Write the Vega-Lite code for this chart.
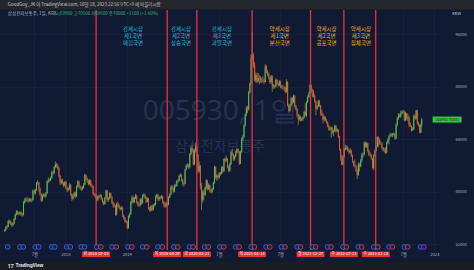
{
"$schema":"https://vega.github.io/schema/vega-lite/v6.json",
"width":440,"height":240,
"autosize":{"type":"none"},
"padding":{"left":0,"top":10,"right":34,"bottom":20},
"background":"#111a33",
"config":{"view":{"stroke":null},"font":"Noto Sans CJK KR"},
"datasets":{
"candles":[
{"t":"2017-01-06","o":36100,"h":36600,"l":35700,"c":36200},
{"t":"2017-01-13","o":36200,"h":37500,"l":35900,"c":37100},
{"t":"2017-01-20","o":37100,"h":37800,"l":36600,"c":37300},
{"t":"2017-01-27","o":37300,"h":39300,"l":37100,"c":39000},
{"t":"2017-02-03","o":39000,"h":39500,"l":38200,"c":38900},
{"t":"2017-02-10","o":38900,"h":39200,"l":37800,"c":38300},
{"t":"2017-02-17","o":38300,"h":38700,"l":37200,"c":37700},
{"t":"2017-02-24","o":37700,"h":38600,"l":37400,"c":38200},
{"t":"2017-03-03","o":38200,"h":39900,"l":38000,"c":39600},
{"t":"2017-03-10","o":39600,"h":41400,"l":39300,"c":41000},
{"t":"2017-03-17","o":41000,"h":42300,"l":40700,"c":41900},
{"t":"2017-03-24","o":41900,"h":42200,"l":40900,"c":41400},
{"t":"2017-03-31","o":41400,"h":41900,"l":40800,"c":41200},
{"t":"2017-04-07","o":41200,"h":42000,"l":40800,"c":41700},
{"t":"2017-04-14","o":41700,"h":41900,"l":40600,"c":41100},
{"t":"2017-04-21","o":41100,"h":41500,"l":40300,"c":40900},
{"t":"2017-04-28","o":40900,"h":45200,"l":40700,"c":44600},
{"t":"2017-05-05","o":44600,"h":46000,"l":44300,"c":45300},
{"t":"2017-05-12","o":45300,"h":46200,"l":44800,"c":45700},
{"t":"2017-05-19","o":45700,"h":46400,"l":45000,"c":45600},
{"t":"2017-05-26","o":45600,"h":45900,"l":44600,"c":45200},
{"t":"2017-06-02","o":45200,"h":46100,"l":44800,"c":45700},
{"t":"2017-06-09","o":45700,"h":46000,"l":44900,"c":45300},
{"t":"2017-06-16","o":45300,"h":45900,"l":44700,"c":45400},
{"t":"2017-06-23","o":45400,"h":48600,"l":45200,"c":48200},
{"t":"2017-06-30","o":48200,"h":48700,"l":47100,"c":47600},
{"t":"2017-07-07","o":47600,"h":48900,"l":47000,"c":48400},
{"t":"2017-07-14","o":48400,"h":50900,"l":48200,"c":50600},
{"t":"2017-07-21","o":50600,"h":51500,"l":50100,"c":50800},
{"t":"2017-07-28","o":50800,"h":51000,"l":48000,"c":48800},
{"t":"2017-08-04","o":48800,"h":49200,"l":46800,"c":47200},
{"t":"2017-08-11","o":47200,"h":47500,"l":44800,"c":45300},
{"t":"2017-08-18","o":45300,"h":47200,"l":45000,"c":46800},
{"t":"2017-08-25","o":46800,"h":47600,"l":46400,"c":47100},
{"t":"2017-09-01","o":47100,"h":47400,"l":46100,"c":46600},
{"t":"2017-09-08","o":46600,"h":47900,"l":46200,"c":47500},
{"t":"2017-09-15","o":47500,"h":51400,"l":47300,"c":51100},
{"t":"2017-09-22","o":51100,"h":52300,"l":50600,"c":51700},
{"t":"2017-09-29","o":51700,"h":52000,"l":50900,"c":51500},
{"t":"2017-10-06","o":51500,"h":52600,"l":51200,"c":52200},
{"t":"2017-10-13","o":52200,"h":54300,"l":51900,"c":54000},
{"t":"2017-10-20","o":54000,"h":54600,"l":53100,"c":53700},
{"t":"2017-10-27","o":53700,"h":55800,"l":53300,"c":55500},
{"t":"2017-11-03","o":55500,"h":57200,"l":55100,"c":56300},
{"t":"2017-11-10","o":56300,"h":56800,"l":55300,"c":56000},
{"t":"2017-11-17","o":56000,"h":56400,"l":54700,"c":55300},
{"t":"2017-11-24","o":55300,"h":55600,"l":52300,"c":52800},
{"t":"2017-12-01","o":52800,"h":53100,"l":50000,"c":50800},
{"t":"2017-12-08","o":50800,"h":52000,"l":50300,"c":51500},
{"t":"2017-12-15","o":51500,"h":51900,"l":50100,"c":50600},
{"t":"2017-12-22","o":50600,"h":51000,"l":49300,"c":49800},
{"t":"2017-12-29","o":49800,"h":51200,"l":49600,"c":50900},
{"t":"2018-01-05","o":50900,"h":51400,"l":48700,"c":49100},
{"t":"2018-01-12","o":49100,"h":49600,"l":47800,"c":48600},
{"t":"2018-01-19","o":48600,"h":49300,"l":48100,"c":48800},
{"t":"2018-01-26","o":48800,"h":50600,"l":48500,"c":50000},
{"t":"2018-02-02","o":50000,"h":50300,"l":46600,"c":47000},
{"t":"2018-02-09","o":47000,"h":47500,"l":45200,"c":45800},
{"t":"2018-02-16","o":45800,"h":47200,"l":45500,"c":46800},
{"t":"2018-02-23","o":46800,"h":48000,"l":46300,"c":47600},
{"t":"2018-03-02","o":47600,"h":48000,"l":45900,"c":46600},
{"t":"2018-03-09","o":46600,"h":49900,"l":46300,"c":49600},
{"t":"2018-03-16","o":49600,"h":51500,"l":49200,"c":51100},
{"t":"2018-03-23","o":51100,"h":51400,"l":49000,"c":49500},
{"t":"2018-03-30","o":49500,"h":49900,"l":48600,"c":49200},
{"t":"2018-04-06","o":49200,"h":49600,"l":48200,"c":48800},
{"t":"2018-04-13","o":48800,"h":49700,"l":48400,"c":49200},
{"t":"2018-04-20","o":49200,"h":50600,"l":48900,"c":50200},
{"t":"2018-04-27","o":50200,"h":53500,"l":50000,"c":53000},
{"t":"2018-05-04","o":53000,"h":53200,"l":51400,"c":51900},
{"t":"2018-05-11","o":51900,"h":52300,"l":50700,"c":51300},
{"t":"2018-05-18","o":51300,"h":51700,"l":49900,"c":50400},
{"t":"2018-05-25","o":50400,"h":51800,"l":50100,"c":51400},
{"t":"2018-06-01","o":51400,"h":51600,"l":49500,"c":49900},
{"t":"2018-06-08","o":49900,"h":50400,"l":49200,"c":49700},
{"t":"2018-06-15","o":49700,"h":49900,"l":47000,"c":47300},
{"t":"2018-06-22","o":47300,"h":47700,"l":46400,"c":46900},
{"t":"2018-06-29","o":46900,"h":47200,"l":45900,"c":46600},
{"t":"2018-07-06","o":46600,"h":46900,"l":44800,"c":45400},
{"t":"2018-07-13","o":45400,"h":46800,"l":45100,"c":46500},
{"t":"2018-07-20","o":46500,"h":47000,"l":45900,"c":46500},
{"t":"2018-07-27","o":46500,"h":47300,"l":46100,"c":46900},
{"t":"2018-08-03","o":46900,"h":47100,"l":45300,"c":45800},
{"t":"2018-08-10","o":45800,"h":46100,"l":44400,"c":44900},
{"t":"2018-08-17","o":44900,"h":45200,"l":43800,"c":44300},
{"t":"2018-08-24","o":44300,"h":46400,"l":44000,"c":46100},
{"t":"2018-08-31","o":46100,"h":48600,"l":45800,"c":48300},
{"t":"2018-09-07","o":48300,"h":48500,"l":44900,"c":45500},
{"t":"2018-09-14","o":45500,"h":46300,"l":44900,"c":45900},
{"t":"2018-09-21","o":45900,"h":47800,"l":45600,"c":47500},
{"t":"2018-09-28","o":47500,"h":47700,"l":46000,"c":46400},
{"t":"2018-10-05","o":46400,"h":46600,"l":44200,"c":44700},
{"t":"2018-10-12","o":44700,"h":45000,"l":43100,"c":44000},
{"t":"2018-10-19","o":44000,"h":44400,"l":43100,"c":43700},
{"t":"2018-10-26","o":43700,"h":43900,"l":40600,"c":41000},
{"t":"2018-11-02","o":41000,"h":44700,"l":40700,"c":44300},
{"t":"2018-11-09","o":44300,"h":44900,"l":43200,"c":43700},
{"t":"2018-11-16","o":43700,"h":44200,"l":42600,"c":43100},
{"t":"2018-11-23","o":43100,"h":43500,"l":42200,"c":42700},
{"t":"2018-11-30","o":42700,"h":43500,"l":42300,"c":43000},
{"t":"2018-12-07","o":43000,"h":43400,"l":40200,"c":40700},
{"t":"2018-12-14","o":40700,"h":41000,"l":39500,"c":40000},
{"t":"2018-12-21","o":40000,"h":40300,"l":38600,"c":39000},
{"t":"2018-12-28","o":39000,"h":39300,"l":38300,"c":38700},
{"t":"2019-01-04","o":38700,"h":39000,"l":36400,"c":36900},
{"t":"2019-01-11","o":36900,"h":40800,"l":36700,"c":40500},
{"t":"2019-01-18","o":40500,"h":41600,"l":39900,"c":41100},
{"t":"2019-01-25","o":41100,"h":45100,"l":40900,"c":44800},
{"t":"2019-02-01","o":44800,"h":46900,"l":44400,"c":46200},
{"t":"2019-02-08","o":46200,"h":46500,"l":44300,"c":44800},
{"t":"2019-02-15","o":44800,"h":46400,"l":44500,"c":46000},
{"t":"2019-02-22","o":46000,"h":47300,"l":45700,"c":46700},
{"t":"2019-03-01","o":46700,"h":47000,"l":44300,"c":44800},
{"t":"2019-03-08","o":44800,"h":45100,"l":43500,"c":44000},
{"t":"2019-03-15","o":44000,"h":44400,"l":43200,"c":43800},
{"t":"2019-03-22","o":43800,"h":46000,"l":43500,"c":45700},
{"t":"2019-03-29","o":45700,"h":46000,"l":44000,"c":44600},
{"t":"2019-04-05","o":44600,"h":47200,"l":44300,"c":46800},
{"t":"2019-04-12","o":46800,"h":47500,"l":46300,"c":47000},
{"t":"2019-04-19","o":47000,"h":47400,"l":45800,"c":46200},
{"t":"2019-04-26","o":46200,"h":46500,"l":44500,"c":45000},
{"t":"2019-05-03","o":45000,"h":46300,"l":44700,"c":45900},
{"t":"2019-05-10","o":45900,"h":46100,"l":42500,"c":42900},
{"t":"2019-05-17","o":42900,"h":43300,"l":41800,"c":42300},
{"t":"2019-05-24","o":42300,"h":43900,"l":41900,"c":43500},
{"t":"2019-05-31","o":43500,"h":43800,"l":42000,"c":42500},
{"t":"2019-06-07","o":42500,"h":44200,"l":42200,"c":43900},
{"t":"2019-06-14","o":43900,"h":44500,"l":43400,"c":44000},
{"t":"2019-06-21","o":44000,"h":46800,"l":43800,"c":46500},
{"t":"2019-06-28","o":46500,"h":47400,"l":46000,"c":47000},
{"t":"2019-07-05","o":47000,"h":47300,"l":45200,"c":45700},
{"t":"2019-07-12","o":45700,"h":46600,"l":45100,"c":46200},
{"t":"2019-07-19","o":46200,"h":46700,"l":45600,"c":46100},
{"t":"2019-07-26","o":46100,"h":47000,"l":45700,"c":46500},
{"t":"2019-08-02","o":46500,"h":46800,"l":44300,"c":44900},
{"t":"2019-08-09","o":44900,"h":45200,"l":43300,"c":44200},
{"t":"2019-08-16","o":44200,"h":44600,"l":43000,"c":43500},
{"t":"2019-08-23","o":43500,"h":44800,"l":43200,"c":44500},
{"t":"2019-08-30","o":44500,"h":44800,"l":43500,"c":44000},
{"t":"2019-09-06","o":44000,"h":46600,"l":43800,"c":46300},
{"t":"2019-09-13","o":46300,"h":47500,"l":46000,"c":47100},
{"t":"2019-09-20","o":47100,"h":49900,"l":46900,"c":49500},
{"t":"2019-09-27","o":49500,"h":50000,"l":48500,"c":49000},
{"t":"2019-10-04","o":49000,"h":49300,"l":47500,"c":48000},
{"t":"2019-10-11","o":48000,"h":50200,"l":47800,"c":49900},
{"t":"2019-10-18","o":49900,"h":50400,"l":49200,"c":49700},
{"t":"2019-10-25","o":49700,"h":51500,"l":49500,"c":51200},
{"t":"2019-11-01","o":51200,"h":51800,"l":50600,"c":51300},
{"t":"2019-11-08","o":51300,"h":53100,"l":51000,"c":52800},
{"t":"2019-11-15","o":52800,"h":53600,"l":52400,"c":53000},
{"t":"2019-11-22","o":53000,"h":53300,"l":51100,"c":51600},
{"t":"2019-11-29","o":51600,"h":51900,"l":49900,"c":50300},
{"t":"2019-12-06","o":50300,"h":50900,"l":49500,"c":50400},
{"t":"2019-12-13","o":50400,"h":55000,"l":50200,"c":54700},
{"t":"2019-12-20","o":54700,"h":56400,"l":54400,"c":56000},
{"t":"2019-12-27","o":56000,"h":56600,"l":55400,"c":56000},
{"t":"2020-01-03","o":56000,"h":56500,"l":54900,"c":55500},
{"t":"2020-01-10","o":55500,"h":59800,"l":55100,"c":59500},
{"t":"2020-01-17","o":59500,"h":61800,"l":59000,"c":61300},
{"t":"2020-01-24","o":61300,"h":62300,"l":60100,"c":60800},
{"t":"2020-01-31","o":60800,"h":61000,"l":56000,"c":56400},
{"t":"2020-02-07","o":56400,"h":60900,"l":56100,"c":60500},
{"t":"2020-02-14","o":60500,"h":62800,"l":60000,"c":61800},
{"t":"2020-02-21","o":61800,"h":62000,"l":58700,"c":59200},
{"t":"2020-02-28","o":59200,"h":59500,"l":53600,"c":54200},
{"t":"2020-03-06","o":54200,"h":57200,"l":53800,"c":55900},
{"t":"2020-03-13","o":55900,"h":56100,"l":48600,"c":49900},
{"t":"2020-03-20","o":49900,"h":50600,"l":42300,"c":45400},
{"t":"2020-03-27","o":45400,"h":48600,"l":44600,"c":47800},
{"t":"2020-04-03","o":47800,"h":48500,"l":45300,"c":47000},
{"t":"2020-04-10","o":47000,"h":49600,"l":46700,"c":49200},
{"t":"2020-04-17","o":49200,"h":51800,"l":48700,"c":51400},
{"t":"2020-04-24","o":51400,"h":51600,"l":48300,"c":48800},
{"t":"2020-05-01","o":48800,"h":50500,"l":48500,"c":50000},
{"t":"2020-05-08","o":50000,"h":50200,"l":47700,"c":48200},
{"t":"2020-05-15","o":48200,"h":48700,"l":47400,"c":47900},
{"t":"2020-05-22","o":47900,"h":49200,"l":47500,"c":48800},
{"t":"2020-05-29","o":48800,"h":51000,"l":48500,"c":50700},
{"t":"2020-06-05","o":50700,"h":56000,"l":50400,"c":55500},
{"t":"2020-06-12","o":55500,"h":55700,"l":51800,"c":52300},
{"t":"2020-06-19","o":52300,"h":53400,"l":51200,"c":52900},
{"t":"2020-06-26","o":52900,"h":53200,"l":51700,"c":52300},
{"t":"2020-07-03","o":52300,"h":54000,"l":52000,"c":53600},
{"t":"2020-07-10","o":53600,"h":54100,"l":52900,"c":53400},
{"t":"2020-07-17","o":53400,"h":55700,"l":53200,"c":55400},
{"t":"2020-07-24","o":55400,"h":55800,"l":53700,"c":54200},
{"t":"2020-07-31","o":54200,"h":58200,"l":54000,"c":57900},
{"t":"2020-08-07","o":57900,"h":58500,"l":56900,"c":57500},
{"t":"2020-08-14","o":57500,"h":59000,"l":57100,"c":58000},
{"t":"2020-08-21","o":58000,"h":58200,"l":55100,"c":55600},
{"t":"2020-08-28","o":55600,"h":56100,"l":53900,"c":54400},
{"t":"2020-09-04","o":54400,"h":56900,"l":54100,"c":56400},
{"t":"2020-09-11","o":56400,"h":60400,"l":56100,"c":60000},
{"t":"2020-09-18","o":60000,"h":61000,"l":58800,"c":59300},
{"t":"2020-09-25","o":59300,"h":59600,"l":57400,"c":57900},
{"t":"2020-10-02","o":57900,"h":59100,"l":57500,"c":58700},
{"t":"2020-10-09","o":58700,"h":60400,"l":58400,"c":60000},
{"t":"2020-10-16","o":60000,"h":61400,"l":59600,"c":60900},
{"t":"2020-10-23","o":60900,"h":61200,"l":59700,"c":60200},
{"t":"2020-10-30","o":60200,"h":60400,"l":56100,"c":56600},
{"t":"2020-11-06","o":56600,"h":60500,"l":56400,"c":60100},
{"t":"2020-11-13","o":60100,"h":64500,"l":59800,"c":64000},
{"t":"2020-11-20","o":64000,"h":65200,"l":63500,"c":64700},
{"t":"2020-11-27","o":64700,"h":68600,"l":64400,"c":68200},
{"t":"2020-12-04","o":68200,"h":71900,"l":67800,"c":71500},
{"t":"2020-12-11","o":71500,"h":74000,"l":71000,"c":73400},
{"t":"2020-12-18","o":73400,"h":74200,"l":72000,"c":73000},
{"t":"2020-12-25","o":73000,"h":78800,"l":72800,"c":78300},
{"t":"2021-01-01","o":78300,"h":81300,"l":77900,"c":81000},
{"t":"2021-01-08","o":81000,"h":90000,"l":80500,"c":88800},
{"t":"2021-01-15","o":88800,"h":96800,"l":88000,"c":89700},
{"t":"2021-01-22","o":89700,"h":90400,"l":85800,"c":86800},
{"t":"2021-01-29","o":86800,"h":87500,"l":81700,"c":82000},
{"t":"2021-02-05","o":82000,"h":84400,"l":81300,"c":83500},
{"t":"2021-02-12","o":83500,"h":84200,"l":81100,"c":81600},
{"t":"2021-02-19","o":81600,"h":84200,"l":81400,"c":82600},
{"t":"2021-02-26","o":82600,"h":83600,"l":80800,"c":82500},
{"t":"2021-03-05","o":82500,"h":83200,"l":81300,"c":82100},
{"t":"2021-03-12","o":82100,"h":82900,"l":81100,"c":82000},
{"t":"2021-03-19","o":82000,"h":83200,"l":81400,"c":81900},
{"t":"2021-03-26","o":81900,"h":82500,"l":80800,"c":81500},
{"t":"2021-04-02","o":81500,"h":86900,"l":81300,"c":86200},
{"t":"2021-04-09","o":86200,"h":86600,"l":84100,"c":84700},
{"t":"2021-04-16","o":84700,"h":85200,"l":83300,"c":84000},
{"t":"2021-04-23","o":84000,"h":84400,"l":82200,"c":82800},
{"t":"2021-04-30","o":82800,"h":83100,"l":80800,"c":81500},
{"t":"2021-05-07","o":81500,"h":83600,"l":81000,"c":83200},
{"t":"2021-05-14","o":83200,"h":83500,"l":78500,"c":80100},
{"t":"2021-05-21","o":80100,"h":80800,"l":79400,"c":80100},
{"t":"2021-05-28","o":80100,"h":80600,"l":79500,"c":80100},
{"t":"2021-06-04","o":80100,"h":82600,"l":79800,"c":82100},
{"t":"2021-06-11","o":82100,"h":82400,"l":80600,"c":81000},
{"t":"2021-06-18","o":81000,"h":81300,"l":79900,"c":80500},
{"t":"2021-06-25","o":80500,"h":82000,"l":80200,"c":81600},
{"t":"2021-07-02","o":81600,"h":81900,"l":79600,"c":80000},
{"t":"2021-07-09","o":80000,"h":80500,"l":79300,"c":79900},
{"t":"2021-07-16","o":79900,"h":80600,"l":79200,"c":79800},
{"t":"2021-07-23","o":79800,"h":80200,"l":78800,"c":79700},
{"t":"2021-07-30","o":79700,"h":79900,"l":78000,"c":78500},
{"t":"2021-08-06","o":78500,"h":82300,"l":78200,"c":81500},
{"t":"2021-08-13","o":81500,"h":81700,"l":74000,"c":74400},
{"t":"2021-08-20","o":74400,"h":74900,"l":72100,"c":72700},
{"t":"2021-08-27","o":72700,"h":74800,"l":72400,"c":74300},
{"t":"2021-09-03","o":74300,"h":77000,"l":74000,"c":76600},
{"t":"2021-09-10","o":76600,"h":76900,"l":74800,"c":75300},
{"t":"2021-09-17","o":75300,"h":77700,"l":75000,"c":77200},
{"t":"2021-09-24","o":77200,"h":77500,"l":73700,"c":74100},
{"t":"2021-10-01","o":74100,"h":74500,"l":72800,"c":73200},
{"t":"2021-10-08","o":73200,"h":73500,"l":70800,"c":71500},
{"t":"2021-10-15","o":71500,"h":71800,"l":68300,"c":70100},
{"t":"2021-10-22","o":70100,"h":71500,"l":69700,"c":70700},
{"t":"2021-10-29","o":70700,"h":71200,"l":69400,"c":69800},
{"t":"2021-11-05","o":69800,"h":70700,"l":69500,"c":70200},
{"t":"2021-11-12","o":70200,"h":71000,"l":69600,"c":70600},
{"t":"2021-11-19","o":70600,"h":72700,"l":70300,"c":72300},
{"t":"2021-11-26","o":72300,"h":75000,"l":71000,"c":71300},
{"t":"2021-12-03","o":71300,"h":75600,"l":70700,"c":75300},
{"t":"2021-12-10","o":75300,"h":77400,"l":75000,"c":76900},
{"t":"2021-12-17","o":76900,"h":78500,"l":76500,"c":77800},
{"t":"2021-12-24","o":77800,"h":80800,"l":77500,"c":80500},
{"t":"2021-12-31","o":80500,"h":80700,"l":78000,"c":78300},
{"t":"2022-01-07","o":78300,"h":79400,"l":76700,"c":78300},
{"t":"2022-01-14","o":78300,"h":79000,"l":76800,"c":77300},
{"t":"2022-01-21","o":77300,"h":77700,"l":75200,"c":75600},
{"t":"2022-01-28","o":75600,"h":75900,"l":71300,"c":73300},
{"t":"2022-02-04","o":73300,"h":74400,"l":72900,"c":74000},
{"t":"2022-02-11","o":74000,"h":76100,"l":73700,"c":75600},
{"t":"2022-02-18","o":75600,"h":75900,"l":73900,"c":74300},
{"t":"2022-02-25","o":74300,"h":74500,"l":71200,"c":71900},
{"t":"2022-03-04","o":71900,"h":73000,"l":71100,"c":71500},
{"t":"2022-03-11","o":71500,"h":71900,"l":68800,"c":70000},
{"t":"2022-03-18","o":70000,"h":71200,"l":69600,"c":70700},
{"t":"2022-03-25","o":70700,"h":71000,"l":69400,"c":69700},
{"t":"2022-04-01","o":69700,"h":70200,"l":68700,"c":69100},
{"t":"2022-04-08","o":69100,"h":69500,"l":67600,"c":68000},
{"t":"2022-04-15","o":68000,"h":68400,"l":66600,"c":67000},
{"t":"2022-04-22","o":67000,"h":67800,"l":66700,"c":67300},
{"t":"2022-04-29","o":67300,"h":67900,"l":64500,"c":67400},
{"t":"2022-05-06","o":67400,"h":67700,"l":65600,"c":66100},
{"t":"2022-05-13","o":66100,"h":66900,"l":64900,"c":66500},
{"t":"2022-05-20","o":66500,"h":68500,"l":66200,"c":68000},
{"t":"2022-05-27","o":68000,"h":68300,"l":66000,"c":66500},
{"t":"2022-06-03","o":66500,"h":67400,"l":66200,"c":66800},
{"t":"2022-06-10","o":66800,"h":67100,"l":64400,"c":64800},
{"t":"2022-06-17","o":64800,"h":65000,"l":60500,"c":60800},
{"t":"2022-06-24","o":60800,"h":61100,"l":57400,"c":58400},
{"t":"2022-07-01","o":58400,"h":59100,"l":56200,"c":56200},
{"t":"2022-07-08","o":56200,"h":59100,"l":55900,"c":58700},
{"t":"2022-07-15","o":58700,"h":61300,"l":58400,"c":60900},
{"t":"2022-07-22","o":60900,"h":62300,"l":60500,"c":61300},
{"t":"2022-07-29","o":61300,"h":62100,"l":60800,"c":61400},
{"t":"2022-08-05","o":61400,"h":61900,"l":60200,"c":60600},
{"t":"2022-08-12","o":60600,"h":61000,"l":59400,"c":60000},
{"t":"2022-08-19","o":60000,"h":61200,"l":59700,"c":60500},
{"t":"2022-08-26","o":60500,"h":60800,"l":58600,"c":59000},
{"t":"2022-09-02","o":59000,"h":59300,"l":56800,"c":57100},
{"t":"2022-09-09","o":57100,"h":57400,"l":55600,"c":56000},
{"t":"2022-09-16","o":56000,"h":57800,"l":55400,"c":55800},
{"t":"2022-09-23","o":55800,"h":56200,"l":54100,"c":54500},
{"t":"2022-09-30","o":54500,"h":54800,"l":51800,"c":53100},
{"t":"2022-10-07","o":53100,"h":57000,"l":52800,"c":56300},
{"t":"2022-10-14","o":56300,"h":56700,"l":54200,"c":55800},
{"t":"2022-10-21","o":55800,"h":58000,"l":55400,"c":57500},
{"t":"2022-10-28","o":57500,"h":59800,"l":57100,"c":59400},
{"t":"2022-11-04","o":59400,"h":60000,"l":58500,"c":59400},
{"t":"2022-11-11","o":59400,"h":63300,"l":59100,"c":62900},
{"t":"2022-11-18","o":62900,"h":63200,"l":61400,"c":61800},
{"t":"2022-11-25","o":61800,"h":63100,"l":61300,"c":62700},
{"t":"2022-12-02","o":62700,"h":62900,"l":60000,"c":60400},
{"t":"2022-12-09","o":60400,"h":60800,"l":58800,"c":59200},
{"t":"2022-12-16","o":59200,"h":60000,"l":58700,"c":59100},
{"t":"2022-12-23","o":59100,"h":59500,"l":57700,"c":58100},
{"t":"2022-12-30","o":58100,"h":58300,"l":55000,"c":55300},
{"t":"2023-01-06","o":55300,"h":59400,"l":54500,"c":59000},
{"t":"2023-01-13","o":59000,"h":60900,"l":58600,"c":60500},
{"t":"2023-01-20","o":60500,"h":62200,"l":60200,"c":61800},
{"t":"2023-01-27","o":61800,"h":64900,"l":61500,"c":64600},
{"t":"2023-02-03","o":64600,"h":64800,"l":61600,"c":63900},
{"t":"2023-02-10","o":63900,"h":64200,"l":62300,"c":62800},
{"t":"2023-02-17","o":62800,"h":63400,"l":62300,"c":62700},
{"t":"2023-02-24","o":62700,"h":63000,"l":60900,"c":61300},
{"t":"2023-03-03","o":61300,"h":61600,"l":60300,"c":60800},
{"t":"2023-03-10","o":60800,"h":61300,"l":59900,"c":60300},
{"t":"2023-03-17","o":60300,"h":61600,"l":59500,"c":59900},
{"t":"2023-03-24","o":59900,"h":63300,"l":59700,"c":63000},
{"t":"2023-03-31","o":63000,"h":64300,"l":62600,"c":64000},
{"t":"2023-04-07","o":64000,"h":65400,"l":62400,"c":65000},
{"t":"2023-04-14","o":65000,"h":66000,"l":64700,"c":65100},
{"t":"2023-04-21","o":65100,"h":65800,"l":64800,"c":65300},
{"t":"2023-04-28","o":65300,"h":65900,"l":64600,"c":65500},
{"t":"2023-05-05","o":65500,"h":66100,"l":65100,"c":65600},
{"t":"2023-05-12","o":65600,"h":65900,"l":63800,"c":64200},
{"t":"2023-05-19","o":64200,"h":68800,"l":64000,"c":68400},
{"t":"2023-05-26","o":68400,"h":70800,"l":68000,"c":70300},
{"t":"2023-06-02","o":70300,"h":72000,"l":69900,"c":71300},
{"t":"2023-06-09","o":71300,"h":71800,"l":70600,"c":71000},
{"t":"2023-06-16","o":71000,"h":72700,"l":70500,"c":71900},
{"t":"2023-06-23","o":71900,"h":72800,"l":71600,"c":72400},
{"t":"2023-06-30","o":72400,"h":73000,"l":71900,"c":72400},
{"t":"2023-07-07","o":72400,"h":72700,"l":69500,"c":69900},
{"t":"2023-07-14","o":69900,"h":72400,"l":69500,"c":71900},
{"t":"2023-07-21","o":71900,"h":72000,"l":69900,"c":70300},
{"t":"2023-07-28","o":70300,"h":71700,"l":69500,"c":70600},
{"t":"2023-08-04","o":70600,"h":71100,"l":67800,"c":68300},
{"t":"2023-08-11","o":68300,"h":69200,"l":67600,"c":68000},
{"t":"2023-08-18","o":68000,"h":68300,"l":66300,"c":66700},
{"t":"2023-08-25","o":66700,"h":67700,"l":66500,"c":67100},
{"t":"2023-09-01","o":67100,"h":71500,"l":66800,"c":71000},
{"t":"2023-09-08","o":71000,"h":71600,"l":69900,"c":70300},
{"t":"2023-09-15","o":70300,"h":73000,"l":70000,"c":72800},
{"t":"2023-09-22","o":72800,"h":72900,"l":68400,"c":68800},
{"t":"2023-09-29","o":68800,"h":69300,"l":67800,"c":68400},
{"t":"2023-10-06","o":68400,"h":68500,"l":65800,"c":66000},
{"t":"2023-10-13","o":66000,"h":68800,"l":65900,"c":68400},
{"t":"2023-10-18","o":68400,"h":70500,"l":67900,"c":70000}
],
"lines":[
{"t":"2018-07-03","lab":"화 2018-07-03"},
{"t":"2019-08-29","lab":"목 2019-08-29"},
{"t":"2020-02-21","lab":"금 2020-02-21"},
{"t":"2021-01-14","lab":"목 2021-01-14"},
{"t":"2021-12-27","lab":"월 2021-12-27"},
{"t":"2022-07-13","lab":"수 2022-07-13"},
{"t":"2023-01-18","lab":"수 2023-01-18"}
],
"notes":[
{"t":"2019-02-07","lab":"강세시장\n제1국면\n매집국면","g":"bull"},
{"t":"2019-11-19","lab":"강세시장\n제2국면\n상승국면","g":"bull"},
{"t":"2020-07-19","lab":"강세시장\n제3국면\n과열국면","g":"bull"},
{"t":"2021-06-27","lab":"약세시장\n제1국면\n분산국면","g":"bear"},
{"t":"2022-04-01","lab":"약세시장\n제2국면\n공포국면","g":"bear"},
{"t":"2022-10-22","lab":"약세시장\n제3국면\n침체국면","g":"bear"}
],
"events":[
{"t":"2017-01-24","k":"b"},{"t":"2017-04-07","k":"b"},{"t":"2017-04-27","k":"b"},{"t":"2017-07-07","k":"b"},{"t":"2017-07-27","k":"b"},{"t":"2017-10-13","k":"b"},{"t":"2017-10-31","k":"b"},
{"t":"2018-01-09","k":"b"},{"t":"2018-01-31","k":"b"},{"t":"2018-04-06","k":"b"},{"t":"2018-04-26","k":"b"},{"t":"2018-07-06","k":"b"},{"t":"2018-07-31","k":"r"},{"t":"2018-10-05","k":"b"},{"t":"2018-10-31","k":"r"},
{"t":"2019-01-08","k":"b"},{"t":"2019-01-31","k":"r"},{"t":"2019-04-05","k":"b"},{"t":"2019-04-30","k":"r"},{"t":"2019-07-05","k":"b"},{"t":"2019-07-31","k":"r"},{"t":"2019-10-08","k":"b"},{"t":"2019-10-31","k":"r"},
{"t":"2020-01-08","k":"b"},{"t":"2020-01-30","k":"r"},{"t":"2020-04-07","k":"b"},{"t":"2020-04-29","k":"r"},{"t":"2020-07-07","k":"b"},{"t":"2020-07-30","k":"r"},{"t":"2020-10-08","k":"b"},{"t":"2020-10-29","k":"r"},
{"t":"2021-01-08","k":"b"},{"t":"2021-01-28","k":"r"},{"t":"2021-04-07","k":"b"},{"t":"2021-04-29","k":"r"},{"t":"2021-07-07","k":"b"},{"t":"2021-07-29","k":"r"},{"t":"2021-10-08","k":"b"},{"t":"2021-10-28","k":"r"},
{"t":"2022-01-07","k":"b"},{"t":"2022-01-27","k":"r"},{"t":"2022-04-07","k":"b"},{"t":"2022-04-28","k":"r"},{"t":"2022-07-07","k":"b"},{"t":"2022-07-28","k":"r"},{"t":"2022-10-07","k":"b"},{"t":"2022-10-27","k":"r"},
{"t":"2023-01-06","k":"b"},{"t":"2023-01-31","k":"r"},{"t":"2023-04-07","k":"b"},{"t":"2023-04-27","k":"r"},{"t":"2023-07-07","k":"b"},{"t":"2023-07-27","k":"r"},{"t":"2023-10-11","k":"b"},{"t":"2023-10-31","k":"p"}
]
},
"data":{"name":"candles"},
"layer":[
{"data":{"values":[{}]},"mark":{"type":"rect","color":"#25272d","clip":false},
 "encoding":{"x":{"datum":{"year":2016,"month":11,"date":1,"utc":true},"type":"temporal"},"x2":{"datum":{"year":2024,"month":9,"date":1,"utc":true}},"y":{"datum":107500,"type":"quantitative"},"y2":{"datum":103600}}},
{"data":{"values":[{}]},"mark":{"type":"rect","color":"#1b1d23","clip":false},
 "encoding":{"x":{"datum":{"year":2016,"month":11,"date":1,"utc":true},"type":"temporal"},"x2":{"datum":{"year":2024,"month":9,"date":1,"utc":true}},"y":{"datum":26500,"type":"quantitative"},"y2":{"datum":20000}}},
{"data":{"values":[{"w":"005930, 1일"}]},"mark":{"type":"text","fontSize":28,"color":"#263150","baseline":"middle","align":"center","font":"Noto Sans"},
 "encoding":{"x":{"datum":{"year":2020,"month":7,"date":8,"utc":true},"type":"temporal"},"y":{"datum":72300,"type":"quantitative"},"text":{"field":"w"}}},
{"data":{"values":[{"w":"삼성전자보통주"}]},"mark":{"type":"text","fontSize":14,"color":"#263150","baseline":"middle","align":"center"},
 "encoding":{"x":{"datum":{"year":2020,"month":7,"date":8,"utc":true},"type":"temporal"},"y":{"datum":61600,"type":"quantitative"},"text":{"field":"w"}}},
{"mark":{"type":"rule","strokeWidth":0.6},
 "encoding":{
  "x":{"field":"t","type":"temporal","scale":{"type":"utc","domain":[{"year":2017,"month":1,"date":8,"utc":true},{"year":2024,"month":1,"date":5,"utc":true}]},
   "axis":{"orient":"bottom","title":null,"values":[{"year":2017,"month":7,"date":1,"utc":true},{"year":2018,"month":1,"date":1,"utc":true},{"year":2019,"month":1,"date":1,"utc":true},{"year":2020,"month":7,"date":1,"utc":true},{"year":2021,"month":7,"date":1,"utc":true},{"year":2023,"month":7,"date":1,"utc":true},{"year":2024,"month":1,"date":1,"utc":true}],
    "labelExpr":"utcmonth(datum.value) == 0 ? utcFormat(datum.value, '%Y') : '7월'","labelFontSize":4.2,"labelColor":"#aeb3bf","labelPadding":2,"ticks":false,"domain":false,"grid":true,"gridColor":"#1b2645","gridWidth":0.5,"labelFlush":false,"labelOverlap":false}},
  "y":{"field":"l","type":"quantitative","scale":{"domain":[30170,103450],"nice":false,"zero":false},
   "axis":{"orient":"right","title":null,"values":[32000,36000,40000,44000,48000,52000,56000,60000,64000,68000,72000,76000,80000,84000,88000,92000,96000,100000],"format":"d","labelFontSize":4,"labelColor":"#aeb3bf","labelPadding":15,"labelAlign":"left","ticks":false,"domain":false,"grid":true,"gridColor":"#1b2645","gridWidth":0.5,"labelOverlap":false}},
  "y2":{"field":"h"},
  "color":{"condition":{"test":"datum.c >= datum.o","value":"#9ccc4a"},"value":"#e39a3a"}}},
{"mark":{"type":"bar","width":1},
 "encoding":{"x":{"field":"t","type":"temporal"},"y":{"field":"o","type":"quantitative"},"y2":{"field":"c"},
  "color":{"condition":{"test":"datum.c >= datum.o","value":"#4cc35a"},"value":"#e8533a"}}},
{"data":{"name":"lines"},"mark":{"type":"rule","color":"#e8333f","strokeWidth":1.3},"encoding":{"x":{"field":"t","type":"temporal"}}},
{"data":{"name":"notes"},"mark":{"type":"text","fontSize":5.5,"lineHeight":6.8,"lineBreak":"\n","baseline":"middle","align":"center"},
 "encoding":{"x":{"field":"t","type":"temporal"},"y":{"datum":97500,"type":"quantitative"},"text":{"field":"lab"},
  "color":{"condition":{"test":"datum.g == 'bull'","value":"#22b7d9"},"value":"#f5a623"}}},
{"data":{"name":"events"},"mark":{"type":"point","shape":"circle","size":22,"filled":false,"strokeWidth":0.8,"fill":"#16214a","opacity":1,"clip":false},
 "encoding":{"x":{"field":"t","type":"temporal"},"y":{"datum":31100,"type":"quantitative"},
  "color":{"field":"k","type":"nominal","scale":{"domain":["b","r","p"],"range":["#3f6df0","#e0454f","#a040e0"]},"legend":null}}},
{"data":{"name":"lines"},"mark":{"type":"point","shape":"M-1,-0.196L1,-0.196L1,0.196L-1,0.196Z","size":784,"filled":true,"color":"#e8333f","opacity":1,"clip":false},
 "encoding":{"x":{"field":"t","type":"temporal"},"y":{"datum":28850,"type":"quantitative"}}},
{"data":{"name":"lines"},"mark":{"type":"text","fontSize":4,"color":"#ffffff","baseline":"middle","align":"center","clip":false},
 "encoding":{"x":{"field":"t","type":"temporal"},"y":{"datum":28850,"type":"quantitative"},"text":{"field":"lab"}}},
{"data":{"values":[{}]},"mark":{"type":"point","shape":"M-1,-0.207L1,-0.207L1,0.207L-1,0.207Z","size":841,"filled":true,"color":"#2ecc40","opacity":1,"clip":false},
 "encoding":{"x":{"datum":{"year":2024,"month":3,"date":17,"utc":true},"type":"temporal"},"y":{"datum":70000,"type":"quantitative"}}},
{"data":{"values":[{"w":"005930  70000"}]},"mark":{"type":"text","fontSize":3.6,"color":"#0b2b10","baseline":"middle","align":"center","clip":false},
 "encoding":{"x":{"datum":{"year":2024,"month":3,"date":17,"utc":true},"type":"temporal"},"y":{"datum":70000,"type":"quantitative"},"text":{"field":"w"}}},
{"data":{"values":[{"w":"GoodGuy_JK 이 TradingView.com, 10월 18, 2023 22:56 UTC+9 에 퍼블리시함"}]},"mark":{"type":"text","fontSize":4.5,"color":"#c8c8cc","baseline":"middle","align":"left","clip":false},
 "encoding":{"x":{"datum":{"year":2017,"month":1,"date":25,"utc":true},"type":"temporal"},"y":{"datum":104970,"type":"quantitative"},"text":{"field":"w"}}},
{"data":{"values":[{"w":"삼성전자보통주, 1일, KRX"}]},"mark":{"type":"text","fontSize":4.5,"color":"#b0b5c0","baseline":"middle","align":"left","clip":false},
 "encoding":{"x":{"datum":{"year":2017,"month":1,"date":25,"utc":true},"type":"temporal"},"y":{"datum":102080,"type":"quantitative"},"text":{"field":"w"}}},
{"data":{"values":[{"w":"시69900  고70500  저69600  종70000  +1100 (+1.60%)"}]},"mark":{"type":"text","fontSize":4.5,"color":"#3bb273","baseline":"middle","align":"left","clip":false},
 "encoding":{"x":{"datum":{"year":2017,"month":11,"date":6,"utc":true},"type":"temporal"},"y":{"datum":102080,"type":"quantitative"},"text":{"field":"w"}}},
{"data":{"values":[{"w":"KRW"}]},"mark":{"type":"text","fontSize":4,"color":"#d0d3da","baseline":"middle","align":"center","clip":false},
 "encoding":{"x":{"datum":{"year":2024,"month":5,"date":12,"utc":true},"type":"temporal"},"y":{"datum":102380,"type":"quantitative"},"text":{"field":"w"}}},
{"data":{"values":[{"w":"TradingView"}]},"mark":{"type":"text","fontSize":4.5,"fontWeight":"bold","color":"#e6e6e6","baseline":"middle","align":"left","clip":false,"font":"Noto Sans"},
 "encoding":{"x":{"datum":{"year":2017,"month":3,"date":13,"utc":true},"type":"temporal"},"y":{"datum":25280,"type":"quantitative"},"text":{"field":"w"}}},
{"data":{"values":[{"w":"17"}]},"mark":{"type":"text","fontSize":5,"fontWeight":"bold","color":"#e6e6e6","baseline":"middle","align":"left","clip":false,"font":"Noto Sans"},
 "encoding":{"x":{"datum":{"year":2017,"month":1,"date":25,"utc":true},"type":"temporal"},"y":{"datum":25280,"type":"quantitative"},"text":{"field":"w"}}}
]
}
